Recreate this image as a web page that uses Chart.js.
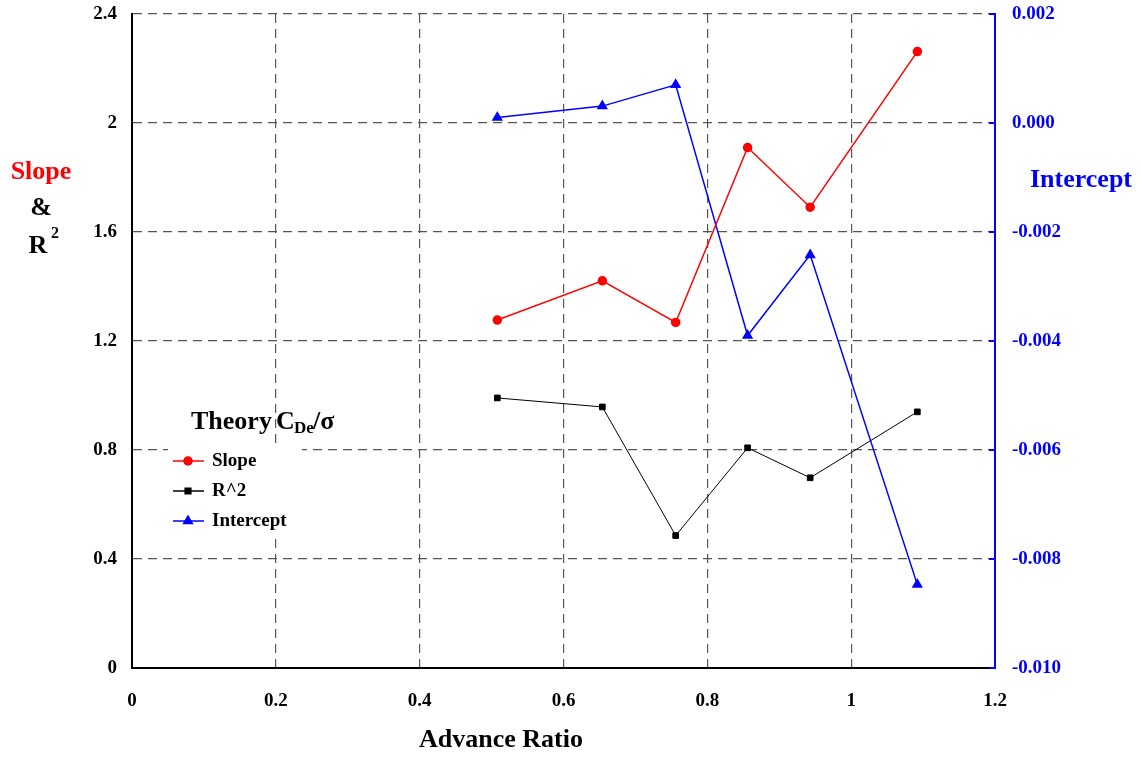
<!DOCTYPE html>
<html>
<head>
<meta charset="utf-8">
<script src="https://cdn.jsdelivr.net/npm/chart.js@4"></script>
<style>
  body { margin: 0; background: #fff; }
  #wrap { width: 1143px; height: 759px; position: relative; }
</style>
</head>
<body>
<div id="wrap"><canvas id="chart"></canvas></div>
<script>
// advance ratio values (x)
const advanceRatio = [0.508, 0.654, 0.756, 0.856, 0.943, 1.092];
// series
const slopeValues = [1.277, 1.421, 1.268, 1.910, 1.691, 2.262];
const r2Values = [0.991, 0.958, 0.486, 0.808, 0.698, 0.940];
const interceptValues = [0.0001, 0.00031, 0.0007, -0.0039, -0.00242, -0.00847];
// axis ranges / ticks
const xTicks = [0, 0.2, 0.4, 0.6, 0.8, 1, 1.2];
const leftTicks = [0, 0.4, 0.8, 1.2, 1.6, 2, 2.4];
const rightTicks = [-0.010, -0.008, -0.006, -0.004, -0.002, 0.000, 0.002];

const serif = '"Liberation Serif", "Times New Roman", serif';

function toPoints(xs, ys) {
    return xs.map((x, i) => ({ x: x, y: ys[i] }));
}

// titles + legend drawn by hand
const decorPlugin = {
    id: 'decor',
    beforeDatasetsDraw(chart) {
        const ctx = chart.ctx;
        ctx.save();
        ctx.fillStyle = '#fff';
        ctx.fillRect(168, 446, 134, 88);
        ctx.restore();
    },
    afterDraw(chart) {
        const ctx = chart.ctx;
        const area = chart.chartArea;
        ctx.save();
        ctx.textBaseline = 'middle';

        // small inward ticks on the right axis
        const y2 = chart.scales.y2;
        ctx.strokeStyle = '#0000ff';
        ctx.lineWidth = 2;
        rightTicks.forEach(v => {
            const py = y2.getPixelForValue(v);
            ctx.beginPath();
            ctx.moveTo(area.right - 6, py);
            ctx.lineTo(area.right, py);
            ctx.stroke();
        });

        // left axis title
        ctx.textAlign = 'center';
        ctx.font = 'bold 26px ' + serif;
        ctx.fillStyle = '#ff0000';
        ctx.fillText('Slope', 41, 172);
        ctx.fillStyle = '#000';
        ctx.fillText('&', 41, 208);
        ctx.fillText('R', 38, 246);
        ctx.font = 'bold 16px ' + serif;
        ctx.fillText('2', 55, 234);

        // right axis title
        ctx.font = 'bold 26px ' + serif;
        ctx.fillStyle = '#0000ff';
        ctx.fillText('Intercept', 1081, 180);

        // x axis title
        ctx.fillStyle = '#000';
        ctx.fillText('Advance Ratio', 501, 740);

        // legend title
        ctx.textAlign = 'left';
        ctx.font = 'bold 26px ' + serif;
        ctx.fillText('Theory', 191, 422);
        ctx.fillText('C', 276, 422);
        ctx.font = 'bold 17px ' + serif;
        ctx.fillText('De', 294, 429);
        ctx.font = 'bold 26px ' + serif;
        ctx.fillText('/\u03c3', 313, 422);

        // legend entries
        const entries = [
            { label: 'Slope', color: '#ff0000', style: 'circle', y: 461 },
            { label: 'R^2', color: '#000000', style: 'rect', y: 491 },
            { label: 'Intercept', color: '#0000ff', style: 'triangle', y: 521 }
        ];
        entries.forEach(e => {
            ctx.strokeStyle = e.color;
            ctx.lineWidth = 1.5;
            ctx.beginPath();
            ctx.moveTo(173, e.y);
            ctx.lineTo(204, e.y);
            ctx.stroke();
            Chart.helpers.drawPoint(ctx, {
                pointStyle: e.style, radius: e.style === 'triangle' ? 5 : 4,
                borderWidth: 1, rotation: 0
            }, 188, e.y);
            ctx.fillStyle = e.color;
            ctx.fill();
            ctx.fillStyle = '#000';
            ctx.font = 'bold 19px ' + serif;
            ctx.fillText(e.label, 212, e.y);
        });
        ctx.restore();
    }
};

const gridStyle = {
    color: '#555',
    lineWidth: 1.2,
    drawTicks: false
};

const tickFont = { family: serif, size: 19, weight: 'bold' };

// keep the tick labels from pushing the plot area around
function noPad(s) {
    s.paddingTop = 0;
    s.paddingBottom = 0;
    s.paddingLeft = 0;
    s.paddingRight = 0;
}

const config = {
    type: 'scatter',
    data: {
        datasets: [
            {
                label: 'Slope',
                data: toPoints(advanceRatio, slopeValues),
                yAxisID: 'y',
                showLine: true,
                borderColor: '#ff0000',
                backgroundColor: '#ff0000',
                borderWidth: 1.5,
                pointStyle: 'circle',
                pointRadius: 4
            },
            {
                label: 'R^2',
                data: toPoints(advanceRatio, r2Values),
                yAxisID: 'y',
                showLine: true,
                borderColor: '#000000',
                backgroundColor: '#000000',
                borderWidth: 1,
                pointStyle: 'rect',
                pointRadius: 4
            },
            {
                label: 'Intercept',
                data: toPoints(advanceRatio, interceptValues),
                yAxisID: 'y2',
                showLine: true,
                borderColor: '#0000ff',
                backgroundColor: '#0000ff',
                borderWidth: 1.5,
                pointStyle: 'triangle',
                pointRadius: 5
            }
        ]
    },
    options: {
        responsive: true,
        maintainAspectRatio: false,
        animation: false,
        layout: { padding: { top: 14, left: 0, right: 0, bottom: 0 } },
        plugins: {
            legend: { display: false },
            tooltip: { enabled: false }
        },
        scales: {
            x: {
                type: 'linear',
                min: 0, max: 1.2,
                afterBuildTicks: s => { s.ticks = xTicks.map(v => ({ value: v })); },
                afterFit: s => { s.height = 91; noPad(s); },
                grid: gridStyle,
                border: { color: '#000', width: 2, dash: [9, 6] },
                ticks: {
                    color: '#000',
                    padding: 22,
                    callback: v => String(+v.toFixed(1)),
                    font: tickFont
                }
            },
            y: {
                position: 'left',
                min: 0, max: 2.4,
                afterBuildTicks: s => { s.ticks = leftTicks.map(v => ({ value: v })); },
                afterFit: s => { s.width = 132; noPad(s); },
                grid: gridStyle,
                border: { color: '#000', width: 2, dash: [9, 6] },
                ticks: {
                    color: '#000',
                    padding: 15,
                    callback: v => String(+v.toFixed(1)),
                    font: tickFont
                }
            },
            y2: {
                position: 'right',
                min: -0.010, max: 0.002,
                afterBuildTicks: s => { s.ticks = rightTicks.map(v => ({ value: v })); },
                afterFit: s => { s.width = 148; noPad(s); },
                grid: { drawOnChartArea: false, drawTicks: false },
                border: { color: '#0000ff', width: 2 },
                ticks: {
                    color: '#0000ff',
                    padding: 17,
                    callback: v => v.toFixed(3),
                    font: tickFont
                }
            }
        }
    },
    plugins: [decorPlugin]
};

new Chart(document.getElementById('chart'), config);
</script>
</body>
</html>
